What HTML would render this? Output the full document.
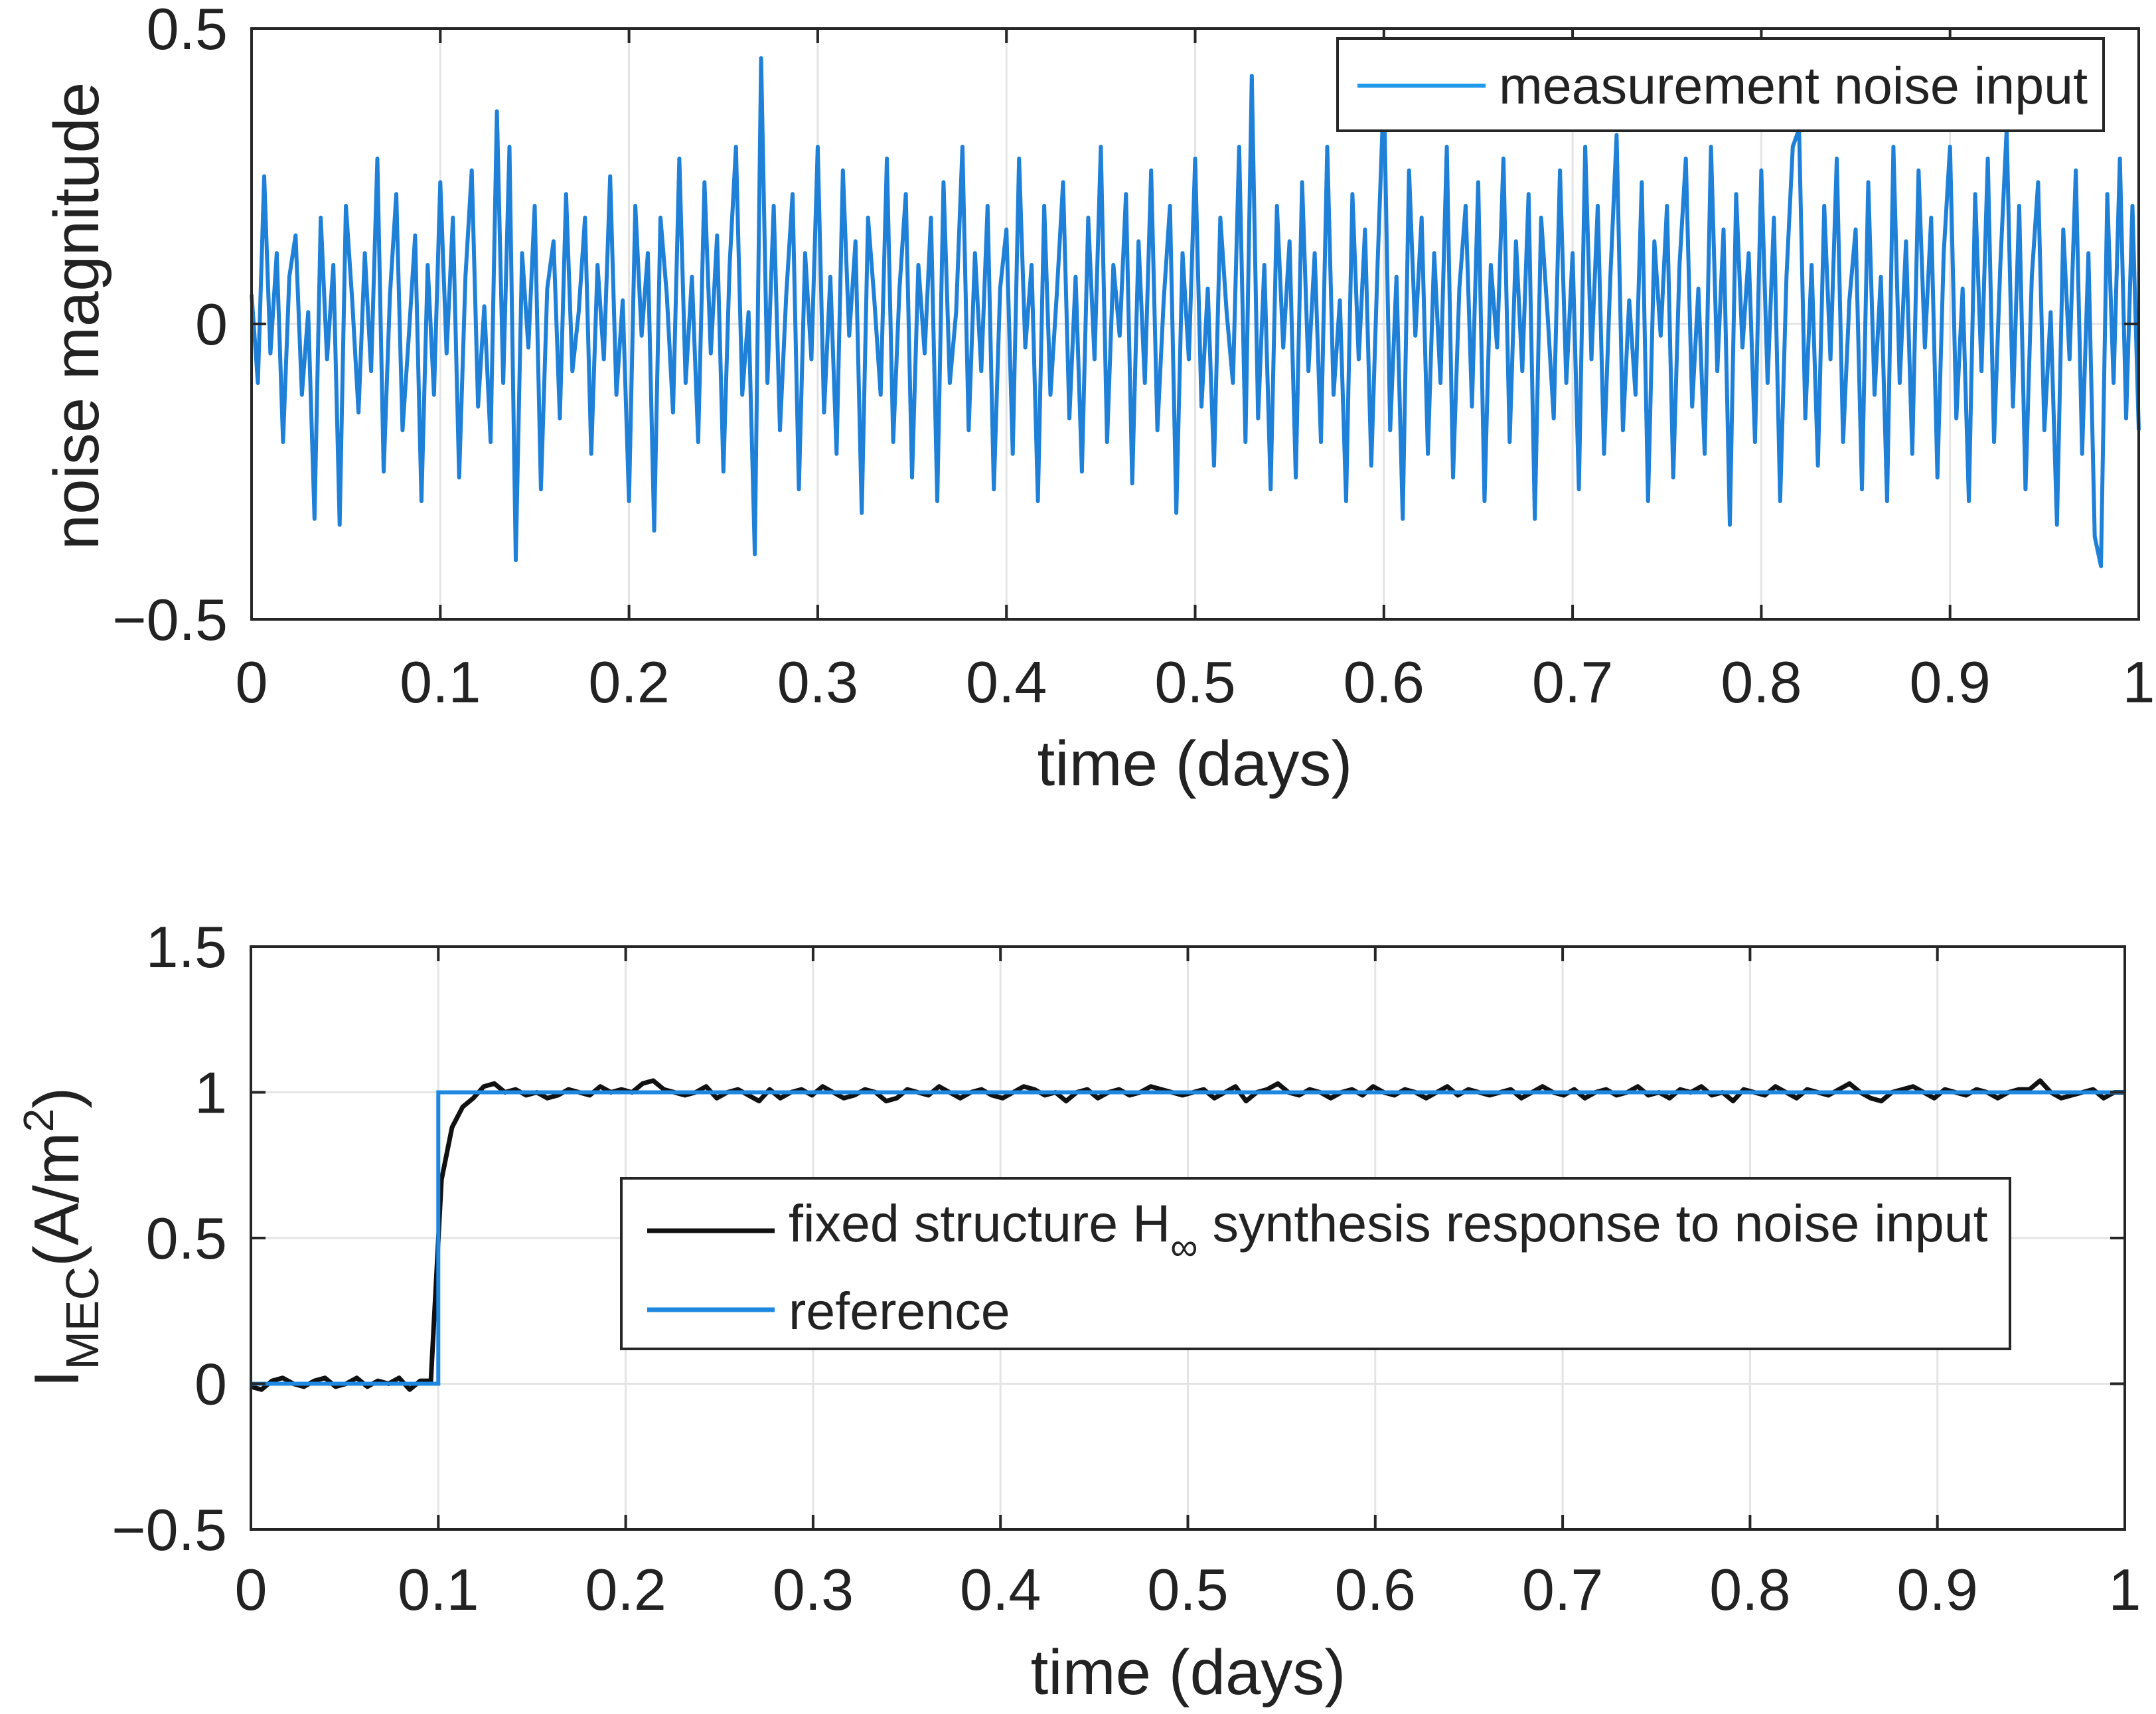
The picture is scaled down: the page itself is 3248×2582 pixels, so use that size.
<!DOCTYPE html>
<html><head><meta charset="utf-8"><style>
html,body{margin:0;padding:0;background:#fff;}
svg{display:block;font-family:"Liberation Sans",Arial,sans-serif;}
</style></head><body>
<svg id="fig" width="3248" height="2582" viewBox="0 0 3248 2582" xmlns="http://www.w3.org/2000/svg">
<g id="top"></g>
<g id="bot"></g>
</svg>
<script>
const noiseValues=[0.05,-0.1,0.25,-0.05,0.12,-0.2,0.08,0.15,-0.12,0.02,
-0.33,0.18,-0.06,0.1,-0.34,0.2,0.04,-0.15,0.12,-0.08,
0.28,-0.25,0.05,0.22,-0.18,-0.02,0.15,-0.3,0.1,-0.12,
0.24,-0.05,0.18,-0.26,0.08,0.26,-0.14,0.03,-0.2,0.36,
-0.1,0.3,-0.4,0.12,-0.04,0.2,-0.28,0.06,0.14,-0.16,
0.22,-0.08,0.02,0.18,-0.22,0.1,-0.06,0.25,-0.12,0.04,
-0.3,0.2,-0.02,0.12,-0.35,0.18,0.05,-0.15,0.28,-0.1,
0.08,-0.2,0.24,-0.05,0.15,-0.25,0.1,0.3,-0.12,0.02,
-0.39,0.45,-0.1,0.2,-0.18,0.05,0.22,-0.28,0.12,-0.06,
0.3,-0.15,0.08,-0.22,0.26,-0.02,0.14,-0.32,0.18,0.04,
-0.12,0.28,-0.2,0.06,0.22,-0.26,0.1,-0.05,0.18,-0.3,
0.24,-0.1,0.02,0.3,-0.18,0.12,-0.08,0.2,-0.28,0.06,
0.16,-0.22,0.28,-0.04,0.1,-0.3,0.2,-0.12,0.05,0.24,
-0.16,0.08,-0.25,0.18,-0.06,0.3,-0.2,0.1,-0.02,0.22,
-0.27,0.14,-0.1,0.26,-0.18,0.04,0.2,-0.32,0.12,-0.06,
0.28,-0.14,0.06,-0.24,0.18,0.02,-0.1,0.3,-0.2,0.42,
-0.16,0.1,-0.28,0.2,-0.04,0.14,-0.26,0.24,-0.08,0.12,
-0.2,0.3,-0.12,0.04,-0.3,0.22,-0.06,0.16,-0.24,0.1,
0.4,-0.18,0.08,-0.33,0.26,-0.02,0.18,-0.22,0.12,-0.1,
0.3,-0.26,0.06,0.2,-0.14,0.24,-0.3,0.1,-0.04,0.28,
-0.2,0.14,-0.08,0.22,-0.33,0.18,0.02,-0.16,0.26,-0.1,
0.12,-0.28,0.3,-0.06,0.2,-0.22,0.08,0.32,-0.18,0.04,
-0.12,0.24,-0.3,0.14,-0.02,0.2,-0.26,0.1,0.28,-0.14,
0.06,-0.22,0.3,-0.08,0.16,-0.34,0.22,-0.04,0.12,-0.2,
0.26,-0.1,0.18,-0.3,0.08,0.3,0.33,-0.16,0.1,-0.24,
0.2,-0.06,0.28,-0.2,0.04,0.16,-0.28,0.24,-0.12,0.08,
-0.3,0.3,-0.1,0.14,-0.22,0.26,-0.04,0.18,-0.26,0.12,
0.3,-0.16,0.06,-0.3,0.22,-0.08,0.28,-0.2,0.1,0.33,
-0.14,0.2,-0.28,0.08,0.24,-0.18,0.02,-0.34,0.16,-0.06,
0.26,-0.22,0.12,-0.36,-0.41,0.22,-0.1,0.28,-0.16,0.2,
-0.18];
const responseValues=[-0.01,-0.02,0.01,0.02,0,-0.01,0.01,0.02,-0.01,0,0.02,-0.01,0.01,0,0.02,-0.02,0.01,0.01,
0.7,0.88,0.95,0.98,1.02,1.03,1.0,1.01,0.99,1.0,
0.98,0.99,1.01,1.0,0.99,1.02,1.0,1.01,1.0,1.03,
1.04,1.01,1.0,0.99,1.0,1.02,0.98,1.0,1.01,0.99,
0.97,1.01,0.98,1.0,1.01,0.99,1.02,1.0,0.98,0.99,
1.01,1.0,0.97,0.98,1.01,1.0,0.99,1.02,1.0,0.98,
1.0,1.01,0.99,0.98,1.0,1.02,1.01,0.99,1.0,0.97,
1.0,1.01,0.98,1.0,1.01,0.99,1.0,1.02,1.01,1.0,
0.99,1.0,1.01,0.98,1.0,1.02,0.97,1.0,1.01,1.03,
1.0,0.99,1.01,1.0,0.98,1.0,1.01,0.99,1.02,1.0,
0.99,1.01,1.0,0.98,1.0,1.02,0.99,1.01,1.0,0.99,
1.0,1.01,0.98,1.0,1.02,1.0,0.99,1.01,0.98,1.0,
1.01,0.99,1.0,1.02,0.99,1.0,0.98,1.01,1.0,1.02,
0.99,1.0,0.97,1.01,1.0,0.99,1.02,1.0,0.98,1.01,
1.0,0.99,1.01,1.03,1.0,0.98,0.97,1.0,1.01,1.02,
1.0,0.98,1.01,1.0,0.99,1.01,1.0,0.98,1.0,1.01,
1.01,1.04,1.0,0.98,0.99,1.0,1.01,0.98,1.0,1.0];
const refTimes=[0,0.1,0.1,1];
const refValues=[0,0,1,1];
const xTicks=[0,0.1,0.2,0.3,0.4,0.5,0.6,0.7,0.8,0.9,1];
const xTickLabels=["0","0.1","0.2","0.3","0.4","0.5","0.6","0.7","0.8","0.9","1"];
const yTicksTop=[-0.5,0,0.5];
const yTickLabelsTop=["\u22120.5","0","0.5"];
const yTicksBot=[-0.5,0,0.5,1,1.5];
const yTickLabelsBot=["\u22120.5","0","0.5","1","1.5"];

const NS="http://www.w3.org/2000/svg";
function mk(parent,tag,attrs,text){const e=document.createElementNS(NS,tag);for(const k in attrs)e.setAttribute(k,attrs[k]);if(text!==undefined)e.textContent=text;parent.appendChild(e);return e;}

function axes(g,L,R,T,B,xmin,xmax,ymin,ymax,yT){
  const sx=v=>L+(v-xmin)/(xmax-xmin)*(R-L);
  const sy=v=>B-(v-ymin)/(ymax-ymin)*(B-T);
  xTicks.forEach(v=>{const l=mk(g,'line',{x1:sx(v),x2:sx(v),y1:T,y2:B,stroke:'#e4e4e4','stroke-width':3});
    
    });
  yT.forEach(v=>{const l=mk(g,'line',{x1:L,x2:R,y1:sy(v),y2:sy(v),stroke:'#e4e4e4','stroke-width':3});
    
    });
  return {sx,sy};
}
function frame(g,L,R,T,B,sx,sy,yT,yL,xLabY){
  const r=mk(g,'rect',{x:L,y:T,width:R-L,height:B-T,fill:'none',stroke:'#262626','stroke-width':4});
  
  
  xTicks.forEach((v,i)=>{
    mk(g,'line',{x1:sx(v),x2:sx(v),y1:B,y2:B-22,stroke:'#262626','stroke-width':4});
    mk(g,'line',{x1:sx(v),x2:sx(v),y1:T,y2:T+22,stroke:'#262626','stroke-width':4});
    const t=mk(g,'text',{x:sx(v),y:xLabY,'font-size':88,'text-anchor':'middle',fill:'#222'},xTickLabels[i]);
    
    
  });
  yT.forEach((v,i)=>{
    mk(g,'line',{x1:L,x2:L+22,y1:sy(v),y2:sy(v),stroke:'#262626','stroke-width':4});
    mk(g,'line',{x1:R,x2:R-22,y1:sy(v),y2:sy(v),stroke:'#262626','stroke-width':4});
    const t=mk(g,'text',{x:L-36,y:sy(v)+31,'font-size':88,'text-anchor':'end',fill:'#222'},yL[i]);
    
    
  });
}

// TOP
(function(){
  const g=document.getElementById('top');
  const L=379,R=3222,T=43,B=933;
  const {sx,sy}=axes(g,L,R,T,B,0,1,-0.5,0.5,yTicksTop);
  const n=noiseValues.length;
  let d='';noiseValues.forEach((v,i)=>{d+=(i?'L':'M')+sx(i/(n-1)).toFixed(1)+','+sy(v).toFixed(1);});
  const p=mk(g,'path',{d:d,fill:'none',stroke:'#1f80d8','stroke-width':6,'stroke-linejoin':'round'});
  
  
  frame(g,L,R,T,B,sx,sy,yTicksTop,yTickLabelsTop,1058);
  const lg=mk(g,'g',{});
  
  
  mk(lg,'rect',{x:2015,y:58,width:1154,height:139,fill:'#fff',stroke:'#262626','stroke-width':4});
  mk(lg,'line',{x1:2045,x2:2238,y1:129,y2:129,stroke:'#1f9ae8','stroke-width':6});
  const lt=mk(lg,'text',{x:2258,y:156,'font-size':79,fill:'#222'},'measurement noise input');
  
  
  const xl=mk(g,'text',{x:1800,y:1183,'font-size':96,'text-anchor':'middle',fill:'#222'},'time (days)');
  
  
  const yl=mk(g,'text',{x:0,y:0,'font-size':96,'text-anchor':'middle',fill:'#222',transform:'translate(148,476) rotate(-90)'},'noise magnitude');
  
  
})();

// BOTTOM
(function(){
  const g=document.getElementById('bot');
  const L=378,R=3201,T=1426,B=2304;
  const {sx,sy}=axes(g,L,R,T,B,0,1,-0.5,1.5,yTicksBot);
  const n=responseValues.length;
  let d='';responseValues.forEach((v,i)=>{d+=(i?'L':'M')+sx(i/(n-1)).toFixed(1)+','+sy(v).toFixed(1);});
  const p=mk(g,'path',{d:d,fill:'none',stroke:'#111','stroke-width':7,'stroke-linejoin':'round'});
  
  
  let d2='';refTimes.forEach((t,i)=>{d2+=(i?'L':'M')+sx(t).toFixed(1)+','+sy(refValues[i]).toFixed(1);});
  const p2=mk(g,'path',{d:d2,fill:'none',stroke:'#1e88e0','stroke-width':6});
  
  
  frame(g,L,R,T,B,sx,sy,yTicksBot,yTickLabelsBot,2425);
  const lg=mk(g,'g',{});
  
  
  mk(lg,'rect',{x:936,y:1775,width:2092,height:257,fill:'#fff',stroke:'#262626','stroke-width':4});
  mk(lg,'line',{x1:975,x2:1167,y1:1854,y2:1854,stroke:'#111','stroke-width':7});
  const t1=mk(lg,'text',{x:1188,y:1870,'font-size':79,fill:'#222'});
  
  
  t1.innerHTML='fixed structure H<tspan dy="28" font-size="58">\u221E</tspan><tspan dy="-28"> synthesis response to noise input</tspan>';
  mk(lg,'line',{x1:975,x2:1167,y1:1973,y2:1973,stroke:'#1e88e0','stroke-width':7});
  const t2=mk(lg,'text',{x:1188,y:2002,'font-size':79,fill:'#222'},'reference');
  
  
  const xl=mk(g,'text',{x:1790,y:2552,'font-size':96,'text-anchor':'middle',fill:'#222'},'time (days)');
  
  
  const yl=mk(g,'text',{x:0,y:0,'font-size':96,'text-anchor':'middle',fill:'#222',transform:'translate(118,1864) rotate(-90)'});
  
  
  yl.innerHTML='I<tspan dy="30" font-size="70">MEC</tspan><tspan dy="-30">(A/m</tspan><tspan dy="-38" font-size="64">2</tspan><tspan dy="38">)</tspan>';
})();
</script>
</body></html>
